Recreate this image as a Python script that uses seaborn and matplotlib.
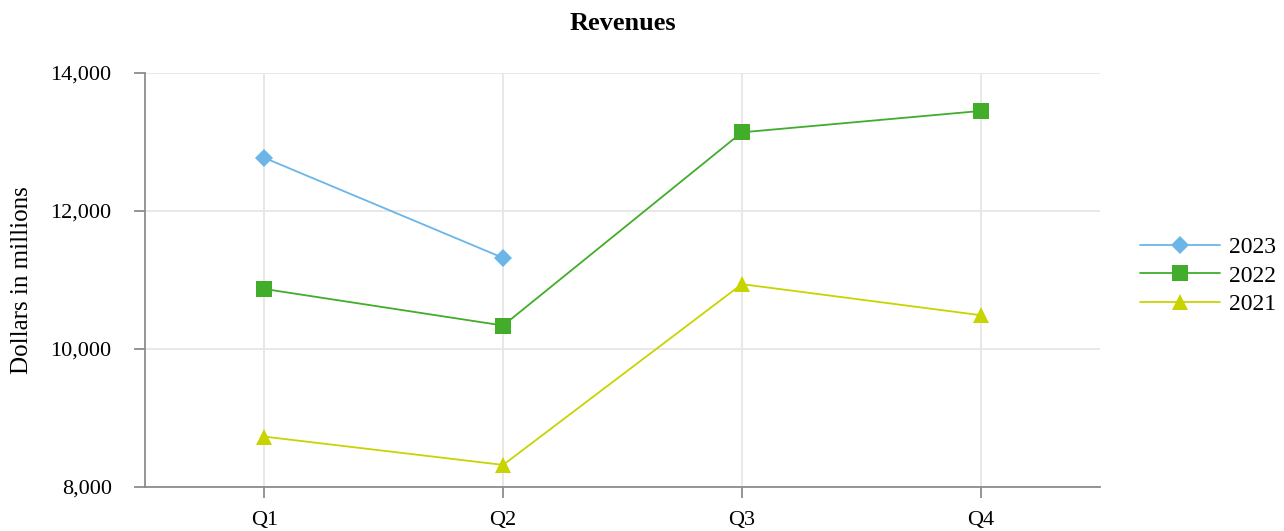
import numpy as np
import pandas as pd
import seaborn as sns
import matplotlib.pyplot as plt

# --- data
quarters = ["Q1", "Q2", "Q3", "Q4"]
rev_2023 = [12770, 11320, np.nan, np.nan]
rev_2022 = [10870, 10340, 13140, 13450]
rev_2021 = [8730, 8320, 10940, 10490]
years = ["2023", "2022", "2021"]
colors = {"2023": "#6bb5e8", "2022": "#41ad2a", "2021": "#c8d400"}
markers = {"2023": "D", "2022": "s", "2021": "^"}
sizes = {"2023": 9.5, "2022": 11.5, "2021": 12}

df = pd.DataFrame(
    {
        "quarter": quarters * 3,
        "year": ["2023"] * 4 + ["2022"] * 4 + ["2021"] * 4,
        "revenue": rev_2023 + rev_2022 + rev_2021,
    }
)
df["x"] = df["quarter"].map({q: i for i, q in enumerate(quarters)})

# --- plotting
sns.set_style("white")
plt.rcParams["font.family"] = ["Liberation Serif", "DejaVu Serif"]
plt.rcParams["text.color"] = "black"

fig, ax = plt.subplots(figsize=(12.84, 5.31), dpi=100)
fig.subplots_adjust(left=145 / 1284, right=1100 / 1284, top=1 - 73 / 531, bottom=1 - 487 / 531)

for yr in years:
    d = df[(df["year"] == yr) & df["revenue"].notna()]
    sns.lineplot(
        data=d,
        x="x",
        y="revenue",
        ax=ax,
        color=colors[yr],
        marker=markers[yr],
        markersize=sizes[yr],
        markeredgewidth=0,
        linewidth=1.3,
        label=yr,
    )

ax.set_xlim(-0.5, 3.5)
ax.set_ylim(8000, 14000)
ax.set_xticks(range(len(quarters)))
ax.set_xticklabels(quarters)
ax.set_yticks([8000, 10000, 12000, 14000])
ax.yaxis.set_major_formatter(plt.FuncFormatter(lambda v, p: f"{int(v):,}"))
ax.grid(True, color="#e6e6e6", linewidth=1.3)
ax.set_axisbelow(True)
for s in ["top", "right"]:
    ax.spines[s].set_visible(False)
for s in ["left", "bottom"]:
    ax.spines[s].set_color("#8c8c8c")
    ax.spines[s].set_linewidth(1.3)
ax.tick_params(axis="both", bottom=True, left=True, colors="#8c8c8c", length=8, width=1.3,
               labelsize=16, labelcolor="black", direction="out")
ax.tick_params(axis="x", pad=9)
ax.tick_params(axis="y", pad=16)
ax.set_xlabel("")
ax.set_ylabel("Dollars in millions", fontsize=18, color="black")
ax.yaxis.set_label_coords(-0.117, 0.5)
ax.set_title("Revenues", fontsize=19, fontweight="bold", pad=31, color="black")

ax.legend(
    loc="center left",
    bbox_to_anchor=(1.042, 0.51),
    frameon=False,
    fontsize=17,
    handlelength=3.4,
    handletextpad=0.35,
    labelspacing=0.3,
    borderpad=0,
    borderaxespad=0,
)

plt.savefig("out.png", dpi=100)
